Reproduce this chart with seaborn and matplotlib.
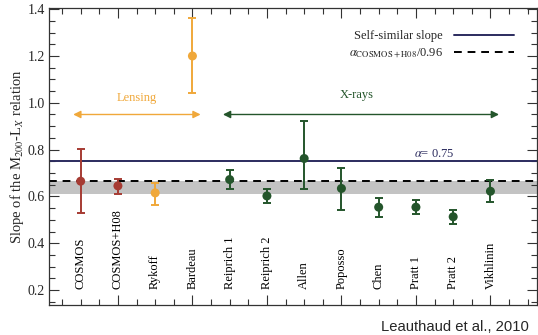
import matplotlib
matplotlib.use("Agg")
import matplotlib.pyplot as plt
from matplotlib.ticker import MultipleLocator
import seaborn as sns
import pandas as pd
import numpy as np

# Published slopes of the M200-Lx relation with their 1-sigma bounds
surveys = ["COSMOS", "COSMOS+H08", "Rykoff", "Bardeau", "Reiprich 1", "Reiprich 2",
           "Allen", "Poposso", "Chen", "Pratt 1", "Pratt 2", "Vikhlinin"]
method = ["cosmos", "cosmos", "lensing", "lensing", "xray", "xray",
          "xray", "xray", "xray", "xray", "xray", "xray"]
slope = [0.665, 0.645, 0.615, 1.20, 0.672, 0.602, 0.762, 0.634, 0.554, 0.554, 0.513, 0.622]
slope_lo = [0.530, 0.612, 0.564, 1.041, 0.632, 0.572, 0.631, 0.544, 0.513, 0.524, 0.484, 0.574]
slope_hi = [0.804, 0.676, 0.659, 1.363, 0.712, 0.632, 0.921, 0.722, 0.592, 0.584, 0.541, 0.672]

self_similar = 0.75
cosmos_h08 = 0.64
band_lo, band_hi = 0.612, 0.667

palette = {"cosmos": "#a63b33", "lensing": "#f0a83a", "xray": "#24552b"}
navy = "#2b2b5e"

df = pd.DataFrame({"survey": surveys, "method": method, "slope": slope,
                   "lo": slope_lo, "hi": slope_hi})
df["pos"] = np.arange(1, len(df) + 1)

sns.set_theme(style="ticks")
plt.rcParams["font.family"] = ["Liberation Serif", "DejaVu Serif"]
plt.rcParams["mathtext.fontset"] = "stix"

fig = plt.figure(figsize=(5.38, 3.35), dpi=100)
ax = fig.add_axes([49 / 538, 30 / 335, 488 / 538, 297 / 335])

ax.axhspan(band_lo, band_hi, color="#c3c3c3", lw=0, zorder=0)
ax.axhline(self_similar, color=navy, lw=1.4, zorder=1, label="Self-similar slope")
ax.axhline(cosmos_h08 / 0.96, color="black", lw=1.4, ls=(0, (4, 3)), zorder=1,
           label=r"$\alpha_{\mathrm{COSMOS+H08}}$/0.96")

for m, sub in df.groupby("method"):
    ax.errorbar(sub["pos"], sub["slope"],
                yerr=[sub["slope"] - sub["lo"], sub["hi"] - sub["slope"]],
                fmt="none", ecolor=palette[m], elinewidth=1.4, capsize=2.6,
                capthick=1.4, zorder=3)

sns.scatterplot(data=df, x="pos", y="slope", hue="method", palette=palette,
                s=42, edgecolor="none", legend=False, zorder=4, ax=ax)

# survey names written vertically inside the plot
for p, name in zip(df["pos"], df["survey"]):
    ax.text(p, 0.203, name, rotation=90, ha="center", va="bottom", fontsize=9,
            color="black")

# method ranges
ax.annotate("", xy=(0.80, 0.95), xytext=(4.22, 0.95),
            arrowprops=dict(arrowstyle="<|-|>", color="#f0a83a", lw=1.0,
                            mutation_scale=11, shrinkA=0, shrinkB=0))
ax.text(2.51, 1.02, "Lensing", ha="center", va="center", fontsize=9, color="#f0a83a")
ax.annotate("", xy=(4.82, 0.95), xytext=(12.23, 0.95),
            arrowprops=dict(arrowstyle="<|-|>", color="#24552b", lw=1.0,
                            mutation_scale=11, shrinkA=0, shrinkB=0))
ax.text(8.42, 1.035, "X-rays", ha="center", va="center", fontsize=9, color="#24552b")

ax.text(10.5, 0.782, r"$\alpha$= 0.75", ha="center", va="center", fontsize=9, color=navy)

ax.set_xlim(0.15, 13.25)
ax.xaxis.set_major_locator(MultipleLocator(2))
ax.xaxis.set_minor_locator(MultipleLocator(0.5))
ax.yaxis.set_major_locator(MultipleLocator(0.2))
ax.yaxis.set_minor_locator(MultipleLocator(0.05))
ax.tick_params(which="both", direction="in", top=True, right=True, width=0.8,
               color="#333333")
ax.tick_params(which="major", length=7)
ax.tick_params(which="minor", length=4)
ax.tick_params(axis="x", labelbottom=False)
ax.tick_params(axis="y", labelsize=10, pad=3)
ax.set_ylim(0.136, 1.405)
ax.set_yticks(np.arange(0.2, 1.41, 0.2))
ax.set_yticklabels([f"{v:.1f}" for v in np.arange(0.2, 1.41, 0.2)])
ax.set_ylim(0.136, 1.405)
ax.set_xlabel("")
ax.set_ylabel(r"Slope of the M$_{200}$-L$_X$ relation", fontsize=10.5, labelpad=1)
for s in ax.spines.values():
    s.set_linewidth(0.9)
    s.set_color("#333333")

ax.legend(loc="upper right", bbox_to_anchor=(0.953, 0.925), frameon=False,
          markerfirst=False, fontsize=9, handlelength=4.8, handletextpad=0.9,
          labelspacing=0.35, borderpad=0, borderaxespad=0)

fig.text(529 / 538, 1 - 327 / 335, "Leauthaud et al., 2010", ha="right",
         va="center", fontsize=10.6, family=["Liberation Sans", "DejaVu Sans"])

fig.savefig("out.png", dpi=100)
